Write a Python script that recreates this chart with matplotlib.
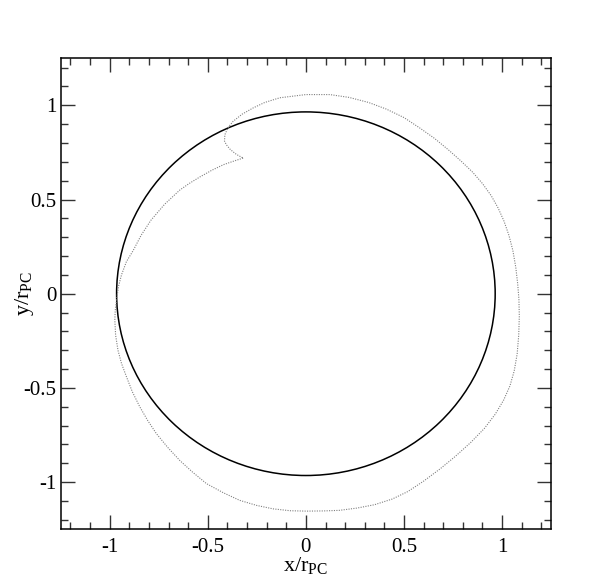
import matplotlib
matplotlib.use("Agg")
import matplotlib.pyplot as plt
from matplotlib.patches import Circle

# ---- data ----
circle_radius = 0.965   # polar cap boundary (solid)

# distorted rim (dotted), starting at the cusp
rim_x = [-0.32, -0.37, -0.42, -0.48, -0.54, -0.595, -0.643, -0.72, -0.79,
         -0.84, -0.88, -0.915, -0.94, -0.955, -0.965, -0.972, -0.974, -0.97,
         -0.958, -0.94, -0.915, -0.885, -0.847, -0.807, -0.762, -0.705,
         -0.643, -0.58, -0.507, -0.42, -0.337, -0.25, -0.167, -0.08, 0.003,
         0.09, 0.17, 0.26, 0.35, 0.44, 0.52, 0.60, 0.684, 0.76, 0.84, 0.91,
         0.965, 1.008, 1.04, 1.062, 1.077, 1.085, 1.088, 1.086, 1.08,
         1.07, 1.055, 1.035, 1.01, 0.98, 0.945, 0.90, 0.85, 0.79, 0.725,
         0.655, 0.58, 0.50, 0.41, 0.32, 0.22, 0.122, 0.0, -0.133, -0.21, -0.269,
         -0.325, -0.371, -0.398, -0.413, -0.415, -0.405, -0.385, -0.355, -0.32]
rim_y = [0.72, 0.703, 0.685, 0.655, 0.62, 0.585, 0.55, 0.475, 0.39,
         0.31, 0.23, 0.17, 0.10, 0.04, -0.03, -0.09, -0.14, -0.22,
         -0.30, -0.37, -0.44, -0.52, -0.60, -0.672, -0.743, -0.815,
         -0.885, -0.945, -1.008, -1.057, -1.097, -1.124, -1.142, -1.152, -1.154,
         -1.153, -1.15, -1.138, -1.12, -1.09, -1.05, -0.995, -0.93, -0.865, -0.79, -0.715,
         -0.64, -0.565, -0.49, -0.41, -0.32, -0.22, -0.12, -0.03, 0.05,
         0.14, 0.23, 0.31, 0.385, 0.455, 0.52, 0.585, 0.645, 0.705, 0.765,
         0.825, 0.88, 0.935, 0.98, 1.015, 1.042, 1.057, 1.057, 1.04, 1.015, 0.986,
         0.953, 0.915, 0.88, 0.844, 0.81, 0.79, 0.765, 0.74, 0.72]

major_ticks = [-1, -0.5, 0, 0.5, 1]
tick_labels = ["-1", "-0.5", "0", "0.5", "1"]

# ---- style ----
plt.rcParams["font.family"] = ["Liberation Serif", "DejaVu Serif"]
plt.rcParams["mathtext.fontset"] = "custom"
plt.rcParams["mathtext.rm"] = "Liberation Serif"
plt.rcParams["mathtext.it"] = "Liberation Serif:italic"
plt.rcParams["axes.unicode_minus"] = False

fig = plt.figure(figsize=(6.13, 5.88), dpi=100)
ax = fig.add_axes([0.099, 0.1, 0.8, 0.801])

ax.add_patch(Circle((0, 0), circle_radius, fill=False, color="black", lw=1.1))
ax.plot(rim_x, rim_y, color="0.5", lw=0.8, ls=(0, (1, 1.2)))

ax.set_xlim(-1.25, 1.25)
ax.set_ylim(-1.25, 1.25)
ax.set_xticks(major_ticks)
ax.set_yticks(major_ticks)
ax.set_xticklabels(tick_labels)
ax.set_yticklabels(tick_labels)
ax.set_xticks([i / 10 for i in range(-12, 13)], minor=True)
ax.set_yticks([i / 10 for i in range(-12, 13)], minor=True)
ax.tick_params(which="both", direction="in", top=True, right=True,
               labelsize=15, width=1.0, color="0.2")
ax.tick_params(which="major", length=10, pad=3)
ax.tick_params(which="minor", length=5)
ax.tick_params(axis="x", which="major", pad=6)
for s in ax.spines.values():
    s.set_linewidth(1.1)

ax.set_xlabel(r"x/r$_{\rm PC}$", fontsize=16)
ax.set_ylabel(r"y/r$_{\rm PC}$", fontsize=16)
ax.xaxis.set_label_coords(0.5, -0.055)
ax.yaxis.set_label_coords(-0.05, 0.5)

fig.savefig("out.png", dpi=100)
